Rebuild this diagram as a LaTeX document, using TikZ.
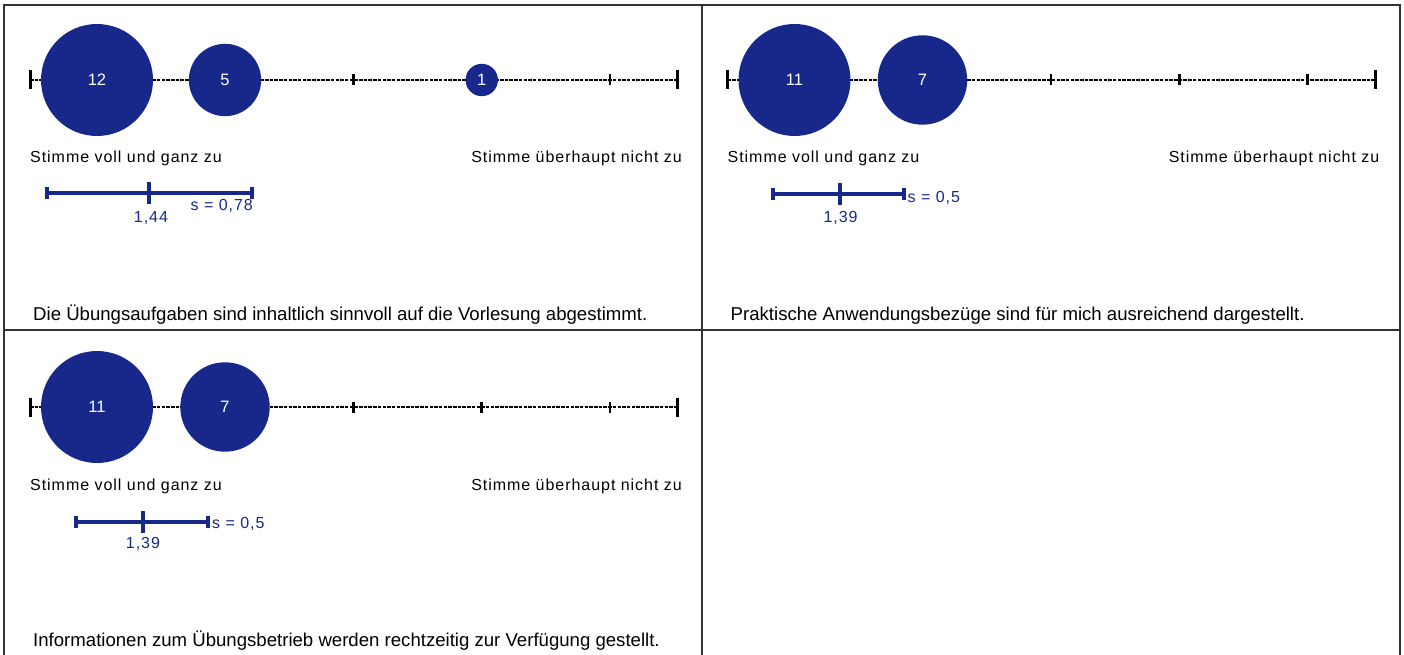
\documentclass[tikz,border=0pt]{standalone}
\usepackage{fontspec}
\setmainfont{Liberation Sans}
\newfontfamily\spacedfont[LetterSpace=6]{Liberation Sans}
\definecolor{navy}{RGB}{24,40,138}
\definecolor{framegray}{RGB}{50,50,50}
\tikzset{
  frameline/.style={line width=1.8pt, draw=framegray},
  scaleline/.style={line width=2.7pt, dash pattern=on 3.5pt off 1.2pt, draw=black},
  endbar/.style={line width=3pt, draw=black},
  tickmark/.style={line width=2.8pt, draw=black},
  bub/.style={circle, fill=navy, text=white, inner sep=0pt, font=\fontsize{16.5}{19}\selectfont},
  sbar/.style={draw=navy, line width=3.2pt},
  scalelbl/.style={inner sep=0pt, font=\spacedfont\fontsize{16}{19}\selectfont, text=black},
  slbl/.style={inner sep=0pt, font=\spacedfont\fontsize{16}{19}\selectfont, text=navy},
  caption/.style={inner sep=0pt, font=\fontsize{18.6}{22}\selectfont, text=black}
}
\begin{document}
\begin{tikzpicture}[x=1pt,y=-1pt]
\useasboundingbox (0,0) rectangle (1404,655);
\fill[white] (0,0) rectangle (1404,655);

% frame
\coordinate (tl) at (4,5);
\coordinate (tr) at (1400,5);
\coordinate (bl) at (4,655);
\coordinate (br) at (1400,655);
\coordinate (tm) at (702,5);
\coordinate (bm) at (702,655);
\coordinate (ml) at (4,330);
\coordinate (mr) at (1400,330);
\draw[frameline] (bl) -- (tl) -- (tr) -- (br);
\draw[frameline] (tm) -- (bm);
\draw[frameline] (ml) -- (mr);

% ---------- panel 1 ----------
\coordinate (a-l) at (30,80);
\coordinate (a-r) at (677.5,80);
\draw[scaleline] (a-l) -- (a-r);
\draw[endbar] ([yshift=9.5pt]a-l) -- ([yshift=-9.5pt]a-l);
\draw[endbar] ([yshift=9.5pt]a-r) -- ([yshift=-9.5pt]a-r);
\foreach \x in {97,225.25,353.5,481.75,610} \draw[tickmark] (\x,74.5) -- (\x,85.5);
\node[bub, minimum size=112pt] (a-c1) at (97,80) {12};
\node[bub, minimum size=72.3pt] (a-c2) at (225,80) {5};
\node[bub, minimum size=32.4pt] (a-c4) at (481.75,80) {1};
\node[scalelbl, anchor=base west] (a-left) at (30,163) {Stimme voll und ganz zu};
\node[scalelbl, anchor=base east] (a-right) at (682,163) {Stimme überhaupt nicht zu};
\coordinate (a-sl) at (47,193);
\coordinate (a-sr) at (252,193);
\coordinate (a-sm) at (149,193);
\draw[sbar] (a-sl) -- (a-sr);
\draw[sbar] ([yshift=6pt]a-sl) -- ([yshift=-6pt]a-sl);
\draw[sbar] ([yshift=6pt]a-sr) -- ([yshift=-6pt]a-sr);
\draw[sbar] ([yshift=11pt]a-sm) -- ([yshift=-11pt]a-sm);
\node[slbl, anchor=base] (a-mean) at (151,222) {1,44};
\node[slbl, anchor=base east] (a-s) at (253,210) {s = 0,78};
\node[caption, anchor=base west] (a-cap) at (33,320) {Die Übungsaufgaben sind inhaltlich sinnvoll auf die Vorlesung abgestimmt.};

% ---------- panel 2 ----------
\begin{scope}[shift={(697.5,0)}]
\coordinate (b-l) at (30,80);
\coordinate (b-r) at (677.5,80);
\draw[scaleline] (b-l) -- (b-r);
\draw[endbar] ([yshift=9.5pt]b-l) -- ([yshift=-9.5pt]b-l);
\draw[endbar] ([yshift=9.5pt]b-r) -- ([yshift=-9.5pt]b-r);
\foreach \x in {97,225.25,353.5,481.75,610} \draw[tickmark] (\x,74.5) -- (\x,85.5);
\node[bub, minimum size=112pt] (b-c1) at (97,80) {11};
\node[bub, minimum size=89.4pt] (b-c2) at (225,80) {7};
\node[scalelbl, anchor=base west] (b-left) at (30,163) {Stimme voll und ganz zu};
\node[scalelbl, anchor=base east] (b-right) at (682,163) {Stimme überhaupt nicht zu};
\coordinate (b-sl) at (75.5,194);
\coordinate (b-sr) at (206.5,194);
\coordinate (b-sm) at (142.5,194);
\draw[sbar] (b-sl) -- (b-sr);
\draw[sbar] ([yshift=6pt]b-sl) -- ([yshift=-6pt]b-sl);
\draw[sbar] ([yshift=6pt]b-sr) -- ([yshift=-6pt]b-sr);
\draw[sbar] ([yshift=11pt]b-sm) -- ([yshift=-11pt]b-sm);
\node[slbl, anchor=base] (b-mean) at (143,222) {1,39};
\node[slbl, anchor=base west] (b-s) at (210,202) {s = 0,5};
\node[caption, anchor=base west] (b-cap) at (33,320) {Praktische Anwendungsbezüge sind für mich ausreichend dargestellt.};
\end{scope}

% ---------- panel 3 ----------
\begin{scope}[shift={(0,327)}]
\coordinate (c-l) at (30,80);
\coordinate (c-r) at (677.5,80);
\draw[scaleline] (c-l) -- (c-r);
\draw[endbar] ([yshift=9.5pt]c-l) -- ([yshift=-9.5pt]c-l);
\draw[endbar] ([yshift=9.5pt]c-r) -- ([yshift=-9.5pt]c-r);
\foreach \x in {97,225.25,353.5,481.75,610} \draw[tickmark] (\x,74.5) -- (\x,85.5);
\node[bub, minimum size=112pt] (c-c1) at (97,80) {11};
\node[bub, minimum size=89.4pt] (c-c2) at (225,80) {7};
\node[scalelbl, anchor=base west] (c-left) at (30,163) {Stimme voll und ganz zu};
\node[scalelbl, anchor=base east] (c-right) at (682,163) {Stimme überhaupt nicht zu};
\coordinate (c-sl) at (76,195);
\coordinate (c-sr) at (208,195);
\coordinate (c-sm) at (143,195);
\draw[sbar] (c-sl) -- (c-sr);
\draw[sbar] ([yshift=6pt]c-sl) -- ([yshift=-6pt]c-sl);
\draw[sbar] ([yshift=6pt]c-sr) -- ([yshift=-6pt]c-sr);
\draw[sbar] ([yshift=11pt]c-sm) -- ([yshift=-11pt]c-sm);
\node[slbl, anchor=base] (c-mean) at (143,221) {1,39};
\node[slbl, anchor=base west] (c-s) at (212,201) {s = 0,5};
\node[caption, anchor=base west] (c-cap) at (33,319) {Informationen zum Übungsbetrieb werden rechtzeitig zur Verfügung gestellt.};
\end{scope}
\end{tikzpicture}
\end{document}
